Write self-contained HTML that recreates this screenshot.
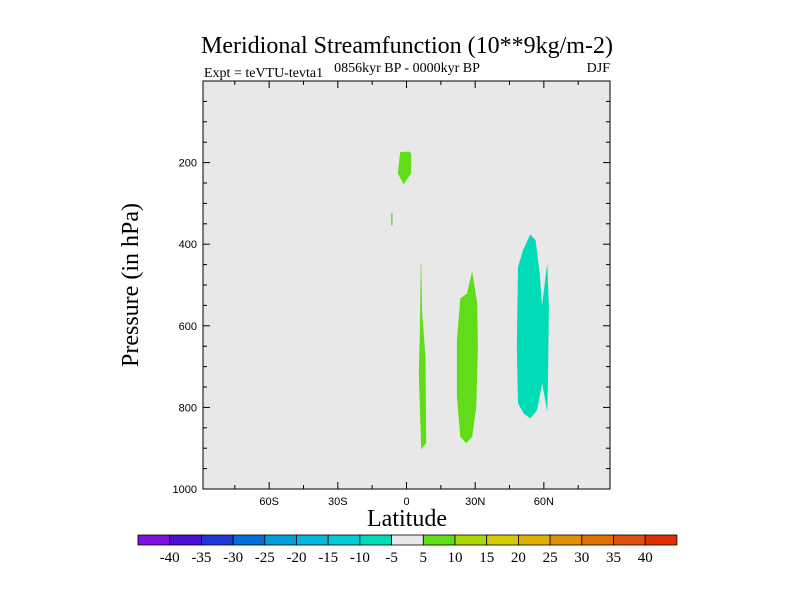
<!DOCTYPE html>
<html><head><meta charset="utf-8">
<style>body{margin:0;background:#fff}svg{display:block}</style></head>
<body>
<svg id="chart" width="800" height="600" viewBox="0 0 800 600" xmlns="http://www.w3.org/2000/svg">
<text x="407" y="53" text-anchor="middle" font-family="Liberation Serif, serif" font-size="24">Meridional Streamfunction (10**9kg/m-2)</text>
<text x="204" y="77" font-family="Liberation Serif, serif" font-size="14">Expt = teVTU-tevta1</text>
<text x="407" y="72" text-anchor="middle" font-family="Liberation Serif, serif" font-size="14">0856kyr BP - 0000kyr BP</text>
<text x="610" y="72" text-anchor="end" font-family="Liberation Serif, serif" font-size="14">DJF</text>
<text transform="translate(138,285) rotate(-90)" text-anchor="middle" font-family="Liberation Serif, serif" font-size="24">Pressure (in hPa)</text>
<text x="407" y="526" text-anchor="middle" font-family="Liberation Serif, serif" font-size="24">Latitude</text>
<g id="plot"></g>
<g id="cbar"></g>
</svg>
<script>
const xTicksMajor = [-60, -30, 0, 30, 60];
const xTickLabels = ["60S", "30S", "0", "30N", "60N"];
const yTicksMajor = [200, 400, 600, 800, 1000];
const yTickLabels = ["200", "400", "600", "800", "1000"];
const contourLevels = ["-40","-35","-30","-25","-20","-15","-10","-5","5","10","15","20","25","30","35","40"];
const contourColors = ["#8010e0","#4d10d8","#1e38d8","#0070dc","#00a0e0","#00b8dc","#00ccd8","#00dcb8","#e8e8e8","#60dc18","#a8d800","#d4cc00","#e0b000","#e09000","#e07000","#e05010","#e03000"];
const regionColors = ["#60dc18","#60dc18","#60dc18","#60dc18","#00dcb8"];
const region1 = [[-2.75,174],[1.3,173],[2.05,178],[2.05,226],[-1.3,253],[-3.8,226]];
const region2 = [[-6.7,324],[-6.1,324],[-6.1,354],[-6.7,354]];
const region3 = [[6.43,446],[6.86,570],[8.31,676],[8.61,888],[6.43,903],[5.38,717],[5.82,627],[6.25,447]];
const region4 = [[28.7,466],[30.9,545],[31.2,652],[30.5,798],[28.7,872],[26.1,888],[23.5,872],[22.0,774],[22.0,635],[23.5,533],[26.4,521]];
const region5 = [[54.1,376],[56.4,390],[58.2,472],[59.2,550],[61.5,446],[62.2,554],[61.8,733],[61.5,811],[59.3,741],[57.0,807],[54.1,827],[51.2,815],[48.7,790],[48.2,652],[48.7,456],[50.9,415]];
const regions = [region1, region2, region3, region4, region5];

const NS = "http://www.w3.org/2000/svg";
const L = 203, R = 610, T = 81, B = 489;
const latMin = -88.9, latMax = 88.9, pMin = 0, pMax = 1000;
const xs = v => L + (v - latMin) / (latMax - latMin) * (R - L);
const ys = v => T + (v - pMin) / (pMax - pMin) * (B - T);
function mk(tag, attrs, parent) { const e = document.createElementNS(NS, tag); for (const k in attrs) e.setAttribute(k, attrs[k]); parent.appendChild(e); return e; }
const plot = document.getElementById('plot');
const bg = mk('rect', {x:L, y:T, width:R-L, height:B-T, fill:'#e8e8e8'}, plot);


regions.forEach((reg, i) => {
  const p = mk('polygon', {points: reg.map(d => xs(d[0]).toFixed(1) + ',' + ys(d[1]).toFixed(1)).join(' '), fill: regionColors[i]}, plot);
  
  
});
const frame = mk('rect', {x:L, y:T, width:R-L, height:B-T, fill:'none', stroke:'#000', 'stroke-width':1}, plot);


for (let v = -75; v <= 75; v += 15) {
  const maj = v % 30 === 0, len = maj ? 7 : 4, x = xs(v);
  mk('line', {x1:x, x2:x, y1:B, y2:B-len, stroke:'#000'}, plot);
  mk('line', {x1:x, x2:x, y1:T, y2:T+len, stroke:'#000'}, plot);
}
xTicksMajor.forEach((v, i) => {
  const t = mk('text', {x:xs(v), y:B+16, 'text-anchor':'middle', 'font-family':'Liberation Sans, sans-serif', 'font-size':11}, plot);
  t.textContent = xTickLabels[i];
  
  
});
for (let v = 50; v < 1000; v += 50) {
  const maj = v % 200 === 0, len = maj ? 7 : 4, y = ys(v);
  mk('line', {x1:L, x2:L+len, y1:y, y2:y, stroke:'#000'}, plot);
  mk('line', {x1:R, x2:R-len, y1:y, y2:y, stroke:'#000'}, plot);
}
yTicksMajor.forEach((v, i) => {
  const t = mk('text', {x:L-6, y:ys(v)+4, 'text-anchor':'end', 'font-family':'Liberation Sans, sans-serif', 'font-size':11}, plot);
  t.textContent = yTickLabels[i];
  
  
});
const cb = document.getElementById('cbar');
const cbL = 138, cbW = 31.7, cbT = 535, cbH = 10;
contourColors.forEach((c, i) => {
  const r = mk('rect', {x:cbL + i*cbW, y:cbT, width:cbW, height:cbH, fill:c, stroke:'#000', 'stroke-width':0.8}, cb);
  
  
});
contourLevels.forEach((lab, i) => {
  const t = mk('text', {x:cbL + (i+1)*cbW, y:562, 'text-anchor':'middle', 'font-family':'Liberation Serif, serif', 'font-size':15}, cb);
  t.textContent = lab;
  
  
});
</script>
</body></html>
